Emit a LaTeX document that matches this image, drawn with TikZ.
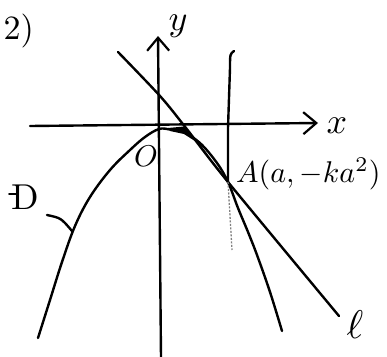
\documentclass[tikz,border=0pt]{standalone}
\usepackage{graphicx}
\usetikzlibrary{arrows.meta}
\begin{document}
\begin{tikzpicture}[x=1pt,y=-1pt,
  ink/.style={line width=2.4pt,line cap=round,line join=round},
  axisarrow/.style={-{Straight Barb[length=13pt,width=22pt,line width=2.2pt]}},
  lbl/.style={inner sep=0pt}]
\useasboundingbox (0,0) rectangle (387,356);
\clip (0,0) rectangle (387,356);
% points
\coordinate (xs) at (30,126);
\coordinate (xe) at (318,123);
\coordinate (ys) at (161,358);
\coordinate (ye) at (158,36);
\coordinate (O) at (159,129);
\coordinate (A) at (228,182);
\coordinate (vtop) at (234,51);
\coordinate (vbot) at (232,250);
% axes
\draw[ink,axisarrow] (xs) -- (xe);
\draw[ink,axisarrow] (ys) -- (ye);
% parabola D
\draw[ink] plot[smooth,tension=0.6] coordinates {(38,338) (50,300) (62,262) (75,226) (90,197) (110,170) (130,150) (145,137) (O) (170,129.5) (183,132) (200,143) (217,163) (A) (238,208) (248,232) (257,255) (270,292) (282,331)};
% tangent l
\draw[ink] plot[smooth,tension=0.5] coordinates {(118,52) (160,96) (186,128) (A) (339,316)};
% vertical line x = a
\draw[ink] (vtop) .. controls (230,54) .. (230,68) -- (228,128) -- (A);
\draw[gray,line width=1.3pt,dash pattern=on 2pt off 1.5pt] (A) -- (vbot);
% shaded region
\fill (168,128) -- (184,126.5) -- (196,139) -- (208,155) -- (198,143) -- (184,134) -- (170,131) -- cycle;
% labels
\node[lbl,anchor=east] (num) at (34,31) {\scalebox{3.4}{2)}};
\node[lbl] (ylab) at (178,26) {\scalebox{3.6}{$y$}};
\node[lbl] (xlab) at (337,126) {\scalebox{3.6}{$x$}};
\node[lbl] (olab) at (146,156) {\scalebox{3.0}{$O$}};
\node[lbl,anchor=west] (alab) at (236,174) {\scalebox{3.0}{$A(a,-ka^2)$}};
\node[lbl] (llab) at (355,325) {\scalebox{4.0}{$\ell$}};
\node[lbl] (dlab) at (25,197) {\scalebox{3.6}{D}};
\draw[line width=1.8pt,line cap=round] (9,194) -- (17,194);
\draw[ink] (47,215) .. controls (61,218) .. (72,231);
\end{tikzpicture}
\end{document}
